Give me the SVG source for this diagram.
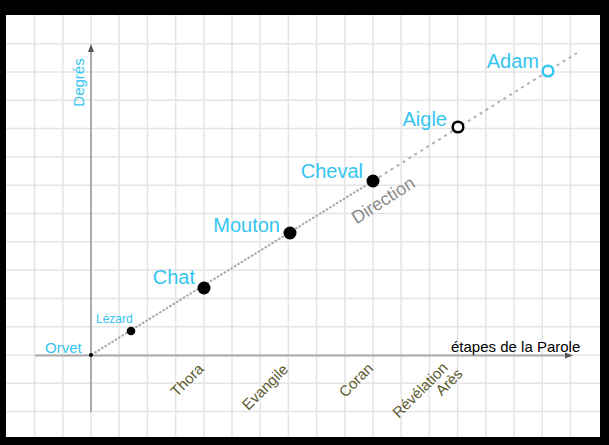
<svg xmlns="http://www.w3.org/2000/svg" width="609" height="445" viewBox="0 0 609 445">
<defs>
<style>
.grid line{stroke:#e4e4e4;stroke-width:1.5}
.axis{stroke:#aaaaaa;stroke-width:2;fill:none}
.lbl{font-family:"Liberation Sans",Arial,sans-serif;fill:#35c5f0}
.big{font-size:20px}
.stage{font-family:"Liberation Sans",Arial,sans-serif;font-size:15px;fill:#5c5c30;text-anchor:middle}
.dot{fill:#000}
</style>
</defs>
<rect x="0" y="0" width="609" height="445" fill="#000"/>
<rect x="6" y="15" width="594" height="422" fill="#fff"/>
<g class="grid" id="grid">
<line x1="34.6" y1="15" x2="34.6" y2="437"/><line x1="62.8" y1="15" x2="62.8" y2="437"/><line x1="91" y1="15" x2="91" y2="437"/><line x1="119.2" y1="15" x2="119.2" y2="437"/><line x1="147.4" y1="15" x2="147.4" y2="437"/><line x1="175.6" y1="15" x2="175.6" y2="437"/><line x1="203.8" y1="15" x2="203.8" y2="437"/><line x1="232" y1="15" x2="232" y2="437"/><line x1="260.2" y1="15" x2="260.2" y2="437"/><line x1="288.4" y1="15" x2="288.4" y2="437"/><line x1="316.6" y1="15" x2="316.6" y2="437"/><line x1="344.8" y1="15" x2="344.8" y2="437"/><line x1="373" y1="15" x2="373" y2="437"/><line x1="401.2" y1="15" x2="401.2" y2="437"/><line x1="429.4" y1="15" x2="429.4" y2="437"/><line x1="457.6" y1="15" x2="457.6" y2="437"/><line x1="485.8" y1="15" x2="485.8" y2="437"/><line x1="514" y1="15" x2="514" y2="437"/><line x1="542.2" y1="15" x2="542.2" y2="437"/><line x1="570.4" y1="15" x2="570.4" y2="437"/>
<line x1="6" y1="43.7" x2="600" y2="43.7"/><line x1="6" y1="72" x2="600" y2="72"/><line x1="6" y1="100.3" x2="600" y2="100.3"/><line x1="6" y1="128.6" x2="600" y2="128.6"/><line x1="6" y1="156.9" x2="600" y2="156.9"/><line x1="6" y1="185.2" x2="600" y2="185.2"/><line x1="6" y1="213.5" x2="600" y2="213.5"/><line x1="6" y1="241.8" x2="600" y2="241.8"/><line x1="6" y1="270.1" x2="600" y2="270.1"/><line x1="6" y1="298.4" x2="600" y2="298.4"/><line x1="6" y1="326.7" x2="600" y2="326.7"/><line x1="6" y1="355" x2="600" y2="355"/><line x1="6" y1="383.3" x2="600" y2="383.3"/><line x1="6" y1="411.6" x2="600" y2="411.6"/>
</g>
<g id="axes">
<line class="axis" x1="91" y1="50" x2="91" y2="412"/>
<polygon points="91,44 88,52 94,52" fill="#555"/>
<line class="axis" x1="35" y1="355.5" x2="567" y2="355.5"/>
<polygon points="573,355.5 565,352.5 565,358.5" fill="#555"/>
<text class="lbl" font-size="15" transform="translate(84,82.5) rotate(-90)" text-anchor="middle">Degrés</text>
<text x="451" y="352" font-family="Liberation Sans,Arial,sans-serif" font-size="15" fill="#000">étapes de la Parole</text>
</g>
<g id="connectors">
<line x1="91" y1="355" x2="373" y2="181" stroke="#a8a8a8" stroke-width="2" stroke-dasharray="2.5 1.5"/>
<line x1="373" y1="181" x2="577" y2="53" stroke="#b0b0b0" stroke-width="2" stroke-dasharray="3 4"/>
<text transform="translate(383,200) rotate(-32.5)" text-anchor="middle" dy="0.35em" font-family="Liberation Sans,Arial,sans-serif" font-size="18" fill="#8a8a8a">Direction</text>
</g>
<g id="orvet"><circle class="dot" cx="91" cy="355" r="2"/><text class="lbl" x="45" y="353" font-size="15">Orvet</text></g>
<g id="lezard"><circle class="dot" cx="131" cy="331" r="4.3"/><text class="lbl" x="96" y="323" font-size="12">Lézard</text></g>
<g id="chat"><circle class="dot" cx="204" cy="288" r="6.5"/><text class="lbl big" x="195" y="284" text-anchor="end">Chat</text></g>
<g id="mouton"><circle class="dot" cx="290" cy="233" r="6.5"/><text class="lbl big" x="280" y="232" text-anchor="end">Mouton</text></g>
<g id="cheval"><circle class="dot" cx="373" cy="181" r="6.5"/><text class="lbl big" x="363" y="178" text-anchor="end">Cheval</text></g>
<g id="aigle"><circle cx="458" cy="127" r="5.3" fill="#fff" stroke="#000" stroke-width="2.5"/><text class="lbl big" x="447" y="126" text-anchor="end">Aigle</text></g>
<g id="adam"><circle cx="548" cy="71" r="5.3" fill="#fff" stroke="#35c5f0" stroke-width="2.5"/><text class="lbl big" x="539" y="68" text-anchor="end">Adam</text></g>
<g id="stages">
<text class="stage" transform="translate(187,380) rotate(-45)" dy="0.35em">Thora</text>
<text class="stage" transform="translate(265,387) rotate(-45)" dy="0.35em">Evangile</text>
<text class="stage" transform="translate(356,380) rotate(-45)" dy="0.35em">Coran</text>
<text class="stage" transform="translate(420,390) rotate(-45)" dy="0.35em">Révélation</text>
<text class="stage" transform="translate(449,382) rotate(-45)" dy="0.35em">Arès</text>
</g>
</svg>
